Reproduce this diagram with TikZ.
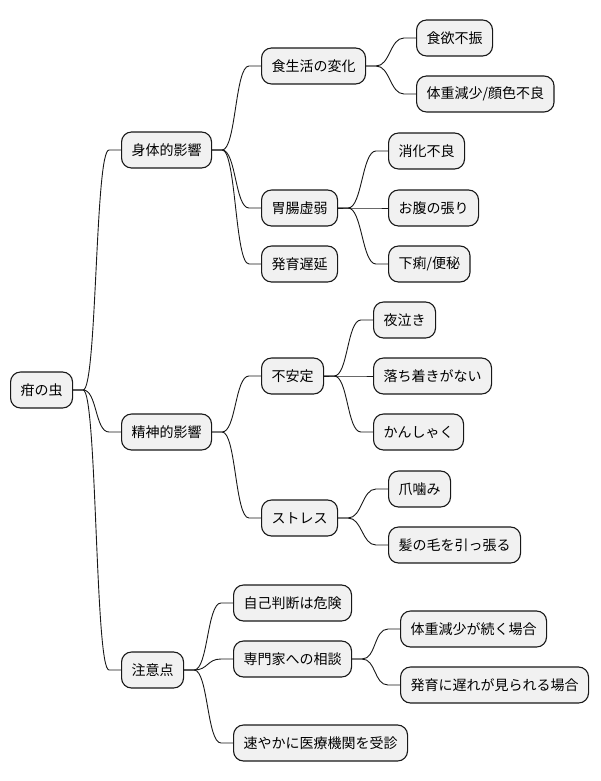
\documentclass[tikz,border=0pt]{standalone}
\usepackage{fontspec}
\newfontfamily\jp{Noto Sans CJK JP}
\usetikzlibrary{calc}

\definecolor{boxfill}{HTML}{F1F1F1}
\definecolor{ink}{HTML}{181818}

\tikzset{
    topic/.style={draw=ink, fill=boxfill, line width=1.1pt, rounded corners=10pt,
        minimum height=36pt, inner xsep=10pt, anchor=west,
        font=\jp\fontsize{14pt}{16pt}\selectfont, text=black},
    edge/.style={draw=ink, line width=0.9pt}
}

\begin{document}
\begin{tikzpicture}[x=1pt, y=-1pt]
    \useasboundingbox (0,0) rectangle (600,781);

    % root
    \node[topic] (root) at (10,390) {疳の虫};

    % first level
    \node[topic] (body)    at (121,150) {身体的影響};
    \node[topic] (mind)    at (121,432) {精神的影響};
    \node[topic] (caution) at (121,670) {注意点};

    % body
    \node[topic] (diet)     at (261,66)  {食生活の変化};
    \node[topic] (appetite) at (416,38)  {食欲不振};
    \node[topic] (weight)   at (416,94)  {体重減少/顔色不良};
    \node[topic] (gut)      at (261,208) {胃腸虚弱};
    \node[topic] (digest)   at (388,151) {消化不良};
    \node[topic] (bloat)    at (388,208) {お腹の張り};
    \node[topic] (bowel)    at (388,264) {下痢/便秘};
    \node[topic] (growth)   at (261,264) {発育遅延};

    % mind
    \node[topic] (unstable) at (261,376) {不安定};
    \node[topic] (nightcry) at (373,320) {夜泣き};
    \node[topic] (restless) at (373,376) {落ち着きがない};
    \node[topic] (tantrum)  at (373,432) {かんしゃく};
    \node[topic] (stress)   at (261,518) {ストレス};
    \node[topic] (nail)     at (388,489) {爪噛み};
    \node[topic] (hair)     at (388,545) {髪の毛を引っ張る};

    % caution
    \node[topic] (selfjudge)  at (233,603) {自己判断は危険};
    \node[topic] (expert)     at (233,659) {専門家への相談};
    \node[topic] (weightloss) at (400,629) {体重減少が続く場合};
    \node[topic] (delay)      at (400,685) {発育に遅れが見られる場合};
    \node[topic] (clinic)     at (233,743) {速やかに医療機関を受診};

    % branches
    \foreach \p/\c in {root/body, root/mind, root/caution,
        body/diet, body/gut, body/growth,
        diet/appetite, diet/weight,
        gut/digest, gut/bloat, gut/bowel,
        mind/unstable, mind/stress,
        unstable/nightcry, unstable/restless, unstable/tantrum,
        stress/nail, stress/hair,
        caution/selfjudge, caution/expert, caution/clinic,
        expert/weightloss, expert/delay}
        \draw[edge] (\p.east) -- ++(10,0)
            .. controls +(14,0) and +(-14,0) .. ($(\c.west)+(-12,0)$) -- (\c.west);
\end{tikzpicture}
\end{document}
